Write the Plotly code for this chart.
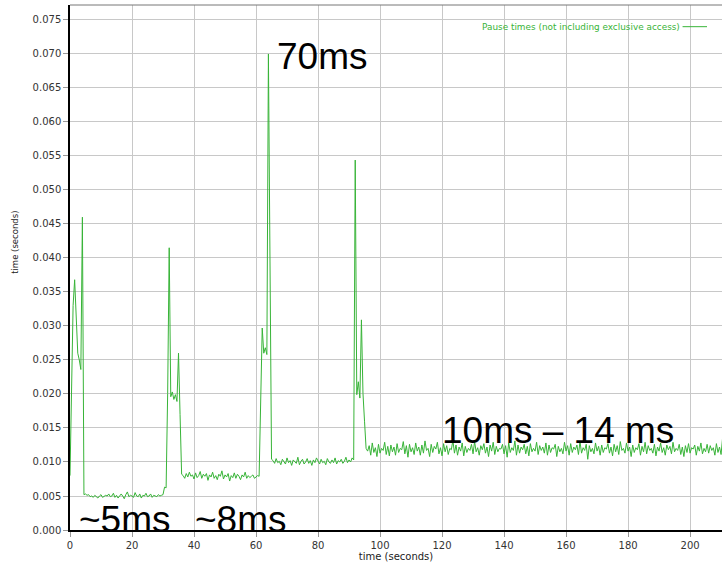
import plotly.graph_objects as go

# Pause times in milliseconds, sampled every 0.5 s, grouped by phase
startup_ms = [8.0, 20.0, 33.0, 36.8, 30.0, 26.0, 25.0, 23.6, 46.0, 5.2]
phase_5ms = [
    5.3, 5.1, 5.2, 4.9, 5.0, 4.8, 5.1, 4.9, 4.7, 5.0,
    5.2, 4.8, 4.9, 5.1, 5.0, 5.3, 4.9, 5.0, 5.4, 4.8,
    5.1, 4.7, 5.0, 5.3, 5.0, 4.6, 5.2, 5.6, 4.9, 5.1,
    5.0, 4.8, 5.5, 5.0, 4.9, 5.3, 4.7, 5.1, 5.0, 5.4,
    4.9, 5.0, 5.3, 4.8, 5.1, 5.0, 4.9, 5.2, 5.0, 5.1,
    5.2]
transition_1 = [6.3, 6.2, 20.1, 41.5, 19.6, 20.3, 19.2, 19.9, 18.9, 26.0, 17.0, 8.2]
phase_8ms = [
    8.0, 7.6, 8.3, 7.8, 8.5, 7.9, 8.1, 7.5, 8.4, 7.7,
    8.0, 8.6, 7.6, 8.2, 7.9, 8.3, 7.3, 8.1, 7.8, 8.5,
    7.6, 8.0, 7.4, 8.2, 7.9, 8.7, 7.5, 8.1, 7.8, 8.3,
    7.2, 8.0, 7.7, 8.4, 7.6, 8.2, 7.9, 7.4, 8.1, 7.8,
    8.5, 7.6, 8.0, 7.7, 7.9, 8.1, 7.6, 7.8, 8.0]
transition_2 = [7.9, 18.0, 29.7, 26.0, 26.8, 25.8, 70.0, 40.0, 10.4]
phase_10ms = [
    10.2, 9.8, 10.5, 9.9, 10.1, 9.6, 10.4, 10.0, 9.7, 10.6,
    9.9, 10.2, 9.5, 10.3, 10.0, 9.8, 10.7, 9.6, 10.1, 10.4,
    9.7, 10.0, 10.5, 9.8, 10.2, 9.5, 10.3, 9.9, 10.6, 10.0,
    9.7, 10.4, 9.9, 10.1, 9.6, 10.5, 10.0, 9.8, 10.3, 9.9,
    10.6, 9.7, 10.2, 10.0, 10.4, 9.8, 10.1, 10.7, 9.9, 10.3,
    10.0, 10.6, 10.3]
transition_3 = [54.4, 19.9, 21.8, 19.4, 30.9, 20.1, 16.0, 12.0]
phase_12ms = [
    11.6, 12.4, 11.0, 12.8, 11.4, 12.1, 10.8, 12.6, 11.3, 12.0,
    11.7, 12.9, 11.1, 12.3, 10.9, 12.5, 11.5, 12.2, 11.0, 12.7,
    11.4, 12.0, 11.8, 13.0, 11.2, 12.4, 10.7, 12.6, 11.5, 12.1,
    11.1, 12.8, 11.6, 12.2, 11.0, 12.5, 11.3, 13.1, 11.7, 12.0,
    10.8, 12.6, 11.4, 12.3, 11.9, 12.9, 11.2, 12.1, 10.9, 12.7,
    11.5, 12.4, 11.1, 12.0, 11.8, 13.2, 11.3, 12.5, 11.0, 12.2,
    11.6, 12.8, 10.9, 12.3, 11.4, 12.0, 11.7, 12.6, 11.2, 13.0,
    11.5, 12.1, 11.0, 12.4, 11.8, 12.7, 11.3, 12.2, 10.8, 12.5,
    11.6, 12.9, 11.1, 12.3, 11.5, 12.0, 11.9, 12.6, 11.2, 12.4,
    10.7, 12.8, 11.4, 12.1, 11.7, 13.1, 11.0, 12.5, 11.3, 12.2,
    11.8, 12.6, 11.2, 12.3, 10.9, 12.7, 11.5, 12.0, 11.6, 12.9,
    11.1, 12.4, 11.7, 12.2, 11.3, 12.8, 11.0, 12.5, 11.4, 12.1,
    11.9, 12.6, 10.8, 12.3, 11.5, 12.0, 11.2, 12.9, 11.6, 12.4,
    11.0, 12.7, 11.4, 12.2, 11.8, 12.5, 11.1, 13.0, 11.3, 12.1,
    11.7, 12.6, 10.4, 12.4, 11.5, 12.0, 11.2, 12.8, 11.6, 12.3,
    11.0, 12.5, 11.4, 12.1, 11.9, 12.7, 11.3, 12.2, 10.9, 12.6,
    11.5, 12.4, 11.1, 13.0, 11.7, 12.0, 11.3, 12.8, 11.6, 12.2,
    10.8, 12.5, 11.4, 12.1, 11.8, 12.7, 11.0, 12.3, 11.5, 12.9,
    11.2, 12.4, 11.7, 12.0, 11.3, 12.6, 10.9, 12.2, 11.6, 12.8,
    11.4, 12.1, 11.0, 12.5, 11.8, 12.3, 11.2, 12.9, 11.5, 12.0,
    11.7, 12.6, 11.1, 12.2, 10.8, 12.4, 11.4, 12.7, 11.3, 12.1,
    11.9, 12.5, 11.0, 12.3, 11.6, 12.8, 11.2, 12.0, 11.5, 12.6,
    11.3, 12.4, 11.7, 12.1, 11.0, 12.7, 11.4, 12.2, 11.1, 13.6]

SAMPLE_STEP_S = 0.5
pause_ms = (startup_ms + phase_5ms + transition_1 + phase_8ms +
            transition_2 + phase_10ms + transition_3 + phase_12ms)
time_s = [i * SAMPLE_STEP_S for i in range(len(pause_ms))]
pause_s = [v / 1000.0 for v in pause_ms]

series_name = "Pause times (not including exclusive access)"
labels = [("70ms", 66.0, 0.0696), ("~5ms", 2.2, 0.0016),
          ("~8ms", 39.6, 0.0016), ("10ms \u2013 14 ms", 119.3, 0.01456)]

GREEN = "#38b438"
tick_font = dict(family="DejaVu Sans", size=10, color="#333333")

fig = go.Figure()
fig.add_trace(go.Scatter(x=time_s, y=pause_s, mode="lines", name=series_name,
                         line=dict(color=GREEN, width=1), showlegend=False))

annotations = []
for text, x, y in labels:
    annotations.append(dict(text=text, x=x, y=y, xref="x", yref="y",
                            xanchor="left", yanchor="middle", showarrow=False,
                            font=dict(family="Liberation Sans", size=37, color="black")))
# legend text
annotations.append(dict(text=series_name, x=0.9387, y=0.9587, xref="paper", yref="paper",
                        xanchor="right", yanchor="middle", showarrow=False,
                        font=dict(family="DejaVu Sans", size=8.9, color=GREEN)))
# y-axis title
annotations.append(dict(text="time (seconds)", x=0, y=0.547, xref="paper", yref="paper",
                        xshift=-55, textangle=-90, xanchor="center", yanchor="middle",
                        showarrow=False,
                        font=dict(family="DejaVu Sans", size=8.5, color="#222222")))

shapes = [
    dict(type="line", xref="paper", yref="paper", x0=0.9395, x1=0.977, y0=0.9587, y1=0.9587,
         line=dict(color=GREEN, width=1)),
    dict(type="line", xref="paper", yref="paper", x0=0, x1=1, y0=1, y1=1,
         line=dict(color="#777777", width=1)),
]

fig.update_layout(
    width=722, height=569,
    margin=dict(l=70, r=0, t=5, b=39),
    plot_bgcolor="white", paper_bgcolor="white",
    annotations=annotations, shapes=shapes,
    xaxis=dict(range=[0, 210.3], dtick=20, tick0=0, showgrid=True, gridcolor="#c8c8c8",
               gridwidth=1, zeroline=False, showline=True, linecolor="black", linewidth=1.5,
               ticks="outside", ticklen=5, tickcolor="#999999", tickfont=tick_font,
               title=dict(text="time (seconds)", standoff=2,
                          font=dict(family="DejaVu Sans", size=10, color="#222222"))),
    yaxis=dict(range=[0, 0.0772], dtick=0.005, tick0=0, tickformat=".3f", showgrid=True,
               gridcolor="#c8c8c8", gridwidth=1, zeroline=False, showline=True,
               linecolor="black", linewidth=1.5, ticks="outside", ticklen=5,
               tickcolor="#999999", tickfont=tick_font),
)

fig.write_html(
    "out.html",
    config={"displayModeBar": False},
    post_script="document.body.style.margin='0';document.body.style.padding='0';"
                "document.documentElement.style.overflow='hidden';",
)
